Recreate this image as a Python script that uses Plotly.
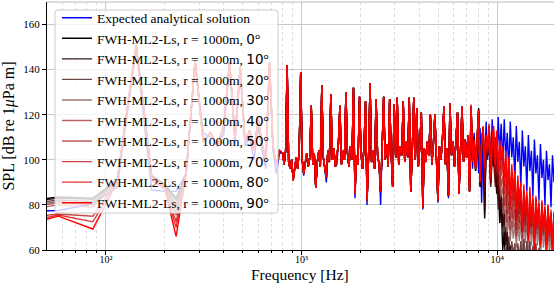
import numpy as np
import plotly.graph_objects as go

# ---------------- data ----------------
angles = [0, 10, 20, 30, 40, 50, 70, 80, 90]

# FFT bins below 800 Hz (k * 28.57 Hz, k = 1..27)
freq_low = np.arange(1, 28) * 28.57
# dense upper part of the spectrum
freq_high = np.geomspace(800, 19500, 181)

# analytical solution, low band
blue_low = [77, 77.5, 80.5, 88, 149, 86.7, 86, 86, 94, 143, 112, 110, 108, 111,
            142, 107, 139, 106, 110, 100, 115, 104, 96, 142, 104, 94, 103]

# FWH, first 8 low bins per angle
low_start = {
    0:  [80, 83.5, 83.0, 91.0, 151.0, 93.0, 89.0, 83.0],
    10: [80, 83.0, 82.5, 91.0, 151.0, 93.0, 89.0, 82.0],
    20: [79, 82.2, 81.5, 91.0, 151.0, 92.5, 88.5, 80.0],
    30: [78, 81.5, 80.5, 91.0, 151.0, 92.5, 88.5, 79.0],
    40: [77, 81.0, 80.0, 91.0, 151.0, 92.0, 88.0, 77.0],
    50: [76, 80.0, 79.0, 90.5, 151.0, 92.0, 88.0, 75.5],
    70: [73, 76.0, 75.0, 90.5, 150.5, 91.5, 87.5, 72.5],
    80: [70, 75.5, 72.5, 90.0, 150.5, 91.0, 87.0, 70.0],
    90: [68, 75.0, 69.3, 90.0, 150.5, 91.0, 87.0, 66.0],
}
# FWH, low bins 9..27 (common to all angles)
red_low_common = [94, 144, 108, 112, 106, 115, 143, 110, 141, 108, 113, 104,
                  118, 107, 100, 143, 106, 98, 104]

# FWH, 800 Hz .. ~7 kHz (common to all angles)
red_mid = [103, 98, 104, 142, 99, 96, 100, 91, 97, 101,
           96, 104, 139, 100, 94, 99, 103, 97, 101, 124,
           98, 103, 87.5, 99, 104, 97, 133, 101, 96, 92,
           104, 99, 129, 100, 105, 97, 102, 107, 124, 98,
           104, 100, 130, 103, 97, 106, 100, 132, 85, 102,
           98, 128, 103, 96, 106, 126, 82, 101, 134, 99,
           104, 96, 127, 102, 98, 86, 105, 128, 100, 107,
           97, 127, 103, 88, 124.5, 101, 127.5, 98, 106, 102,
           126, 99, 108, 101, 127.5, 86, 104, 127.5, 100, 123,
           97, 106, 121, 79, 105, 99, 108, 102, 120, 98,
           107, 120, 101, 82, 106, 100, 109, 123.5, 98, 105,
           84, 125, 102, 108, 97, 110, 121, 85, 104, 123.5,
           99, 109, 101, 111, 86]

blue_mid = [103, 98, 104, 142, 99, 96, 100, 91, 97, 101,
            96, 104, 139, 100, 93, 99, 103, 97, 101, 124,
            98, 103, 87.5, 99, 104, 97, 133, 101, 96, 90,
            104, 99, 129, 100, 105, 97, 98, 107, 124, 98,
            104, 100, 130, 103, 97, 106, 100, 132, 83, 102,
            98, 128, 103, 96, 106, 126, 80, 101, 134, 99,
            104, 96, 127, 102, 98, 80, 105, 128, 100, 107,
            97, 127, 103, 88, 124.5, 101, 127.5, 98, 106, 102,
            126, 99, 108, 101, 127.5, 86, 104, 127.5, 100, 123,
            97, 106, 121, 78, 105, 99, 108, 102, 120, 98,
            107, 120, 101, 81, 106, 100, 109, 123.5, 98, 105,
            83, 125, 102, 108, 97, 110, 121, 85, 104, 123.5,
            99, 109, 101, 111, 86]

# upper tail (~7 kHz .. 19.5 kHz)
blue_tail = [110, 96, 112, 100, 108, 94, 114, 81, 110, 98,
             117, 100, 112, 95, 118, 102, 110, 97, 119, 103,
             116, 98, 118, 100, 112, 95, 117, 101, 110, 91,
             115, 99, 108, 88, 113, 97, 106, 86, 111, 95,
             104, 84, 109, 94, 102, 82, 107, 92, 100, 80,
             104, 91, 98, 79, 102, 90]

tails = {
    0:  [123, 101, 110, 95, 113, 123, 88, 109, 114, 74,
         110, 102, 115, 90, 106, 97, 100, 85, 92, 72,
         80, 60, 68, 50, 62, 45, 55, 42, 50, 45,
         38, 48, 40, 44, 36, 46, 40, 42, 35, 44,
         38, 41, 34, 43, 37, 40, 33, 42, 36, 39,
         32, 41, 35, 38, 33, 40],
    10: [123, 101, 109, 95, 112, 122.5, 88, 108, 114, 76,
         110, 102, 115, 90, 104, 98, 100, 87, 94, 78,
         84, 70, 76, 62, 68, 56, 62, 52, 58, 50,
         55, 48, 53, 47, 52, 46, 51, 45, 50, 45,
         49, 44, 48, 43, 48, 43, 47, 42, 46, 42,
         45, 41, 45, 40, 44, 40],
    20: [123, 100, 108, 96, 110, 121, 89, 106, 113.5, 78,
         108, 102, 113, 88, 100, 100, 88, 91, 78, 83,
         72, 76, 64, 70, 60, 66, 57, 64, 58, 63,
         54, 63, 56, 64, 52, 65, 55, 64, 51, 64,
         54, 62, 50, 63, 54, 61, 49, 60, 53, 59,
         48, 58, 52, 57, 47, 56],
    30: [123, 100, 108, 96, 110, 121, 89, 106, 114, 82,
         108, 102, 113, 88, 102, 102, 90, 95, 82, 88,
         78, 83, 71, 78, 67, 75, 64, 73, 65, 72,
         61, 72, 64, 73, 60, 74, 63, 73, 59, 74,
         62, 72, 57, 73, 62, 71, 56, 70, 61, 69,
         55, 69, 59, 67, 54, 66],
    40: [123.5, 100, 108, 96, 111, 121, 90, 107, 114, 86,
         109, 102, 114, 89, 104, 105, 92, 99, 86, 93,
         84, 88, 76, 84, 72, 81, 69, 79, 70, 78,
         66, 78, 69, 79, 65, 80, 68, 79, 64, 80,
         67, 78, 62, 79, 67, 77, 61, 76, 66, 75,
         60, 75, 64, 73, 59, 72],
    50: [123.5, 100, 108, 96, 111, 121, 90, 107, 114, 90,
         109, 102, 114, 90, 105, 108, 94, 103, 89, 97,
         88, 93, 80, 89, 76, 86, 73, 84, 74, 83,
         69, 82, 72, 83, 68, 84, 71, 83, 67, 84,
         70, 82, 65, 83, 70, 81, 64, 80, 69, 79,
         63, 79, 67, 77, 62, 76],
    70: [124, 100, 108, 97, 111, 121.5, 91, 107, 114.5, 94,
         110, 103, 115, 91, 107, 111, 96, 107, 92, 101,
         93, 98, 85, 95, 81, 92, 78, 90, 79, 88,
         72, 86, 76, 85, 70, 86, 73, 84, 68, 85,
         71, 83, 66, 84, 72, 82, 65, 81, 70, 80,
         64, 80, 68, 78, 63, 77],
    80: [124, 100, 108, 97, 111, 121.5, 91, 107, 114.5, 96,
         110, 103, 115, 92, 108, 113, 97, 110, 94, 105,
         96, 102, 88, 99, 84, 96, 80, 93, 82, 90,
         74, 88, 78, 86, 68, 85, 74, 84, 66, 83,
         70, 82, 64, 81, 69, 80, 63, 79, 67, 78,
         62, 78, 66, 76, 61, 75],
    90: [124.5, 99, 109, 96, 112, 122, 90, 108, 115, 97,
         111, 104, 116, 93, 110, 115, 98, 113, 96, 109,
         100, 106, 92, 104, 88, 101, 84, 98, 86, 95,
         78, 93, 82, 90, 70, 89, 76, 86, 64, 88,
         72, 84, 60, 83, 70, 80, 62, 82, 68, 78,
         58, 80, 66, 76, 60, 77],
}

line_colors = {
    0: "rgba(0,0,0,1)",
    10: "rgba(28,0,0,0.9)",
    20: "rgba(57,0,0,0.72)",
    30: "rgba(85,0,0,0.53)",
    40: "rgba(138,0,0,0.61)",
    50: "rgba(157,0,0,0.65)",
    70: "rgba(183,0,0,0.72)",
    80: "rgba(215,0,0,0.8)",
    90: "rgba(255,0,0,1)",
}

# sanity checks
assert len(blue_low) == len(freq_low)
assert len(blue_mid) + len(blue_tail) == len(freq_high)
for a in angles:
    assert len(low_start[a]) + len(red_low_common) == len(freq_low), a
    assert len(red_mid) + len(tails[a]) == len(freq_high), a

SERIF = "Liberation Serif, Times New Roman, serif"

fig = go.Figure()
x_all = np.concatenate([freq_low, freq_high])

fig.add_trace(go.Scatter(
    x=x_all, y=blue_low + blue_mid + blue_tail, mode="lines",
    line=dict(color="#0000ff", width=1.4),
    name="Expected analytical solution"))

for a in angles:
    y = low_start[a] + red_low_common + red_mid + tails[a]
    label = ("FWH-ML2-Ls, r = 1000m, "
             "<span style='font-family:DejaVu Sans'>%d\u1d52</span>" % a)
    fig.add_trace(go.Scatter(
        x=x_all, y=y, mode="lines",
        line=dict(color=line_colors[a], width=1.4),
        name=label))

minor_vals = [60, 70, 80, 90] + [m * 100 for m in range(2, 10)] + \
             [m * 1000 for m in range(2, 10)]

fig.update_layout(
    width=554, height=293,
    margin=dict(l=47, r=0, t=2, b=43, autoexpand=False),
    paper_bgcolor="white", plot_bgcolor="white",
    font=dict(family=SERIF, size=11, color="black"),
    showlegend=True,
    legend=dict(
        x=0.0197, y=0.998, xanchor="left", yanchor="top",
        bgcolor="rgba(0,0,0,0)", borderwidth=0,
        font=dict(family=SERIF, size=13.5, color="black"),
        tracegroupgap=0, itemwidth=30,
    ),
    xaxis=dict(
        type="log",
        range=[np.log10(50), np.log10(19500)],
        tickvals=[100, 1000, 10000],
        ticktext=["10\u00b2", "10\u00b3", "10\u2074"],
        ticks="outside", ticklen=4, tickcolor="black",
        ticklabelstandoff=-4,
        showline=True, linecolor="black", linewidth=1,
        showgrid=True, gridcolor="#c8c8c8", gridwidth=1,
        minor=dict(tickvals=minor_vals, ticks="outside", ticklen=2,
                   tickcolor="black", showgrid=True, gridcolor="#dcdcdc",
                   griddash="dot"),
        tickfont=dict(family=SERIF, size=10),
        zeroline=False,
    ),
    yaxis=dict(
        range=[60, 170],
        tick0=60, dtick=20,
        ticks="outside", ticklen=4, tickcolor="black",
        showline=True, linecolor="black", linewidth=1,
        showgrid=True, gridcolor="#c8c8c8", gridwidth=1,
        tickfont=dict(family=SERIF, size=11),
        title=dict(text="SPL [dB re 1<i>μ</i>Pa m]",
                   font=dict(family=SERIF, size=16), standoff=5),
        zeroline=False,
    ),
)

fig.add_annotation(text="Frequency [Hz]", xref="paper", yref="paper",
                   x=0.499, y=-0.097, xanchor="center", yanchor="middle",
                   showarrow=False, font=dict(family=SERIF, size=15.5))

fig.add_shape(type="line", xref="paper", yref="paper", x0=0, x1=1, y0=1, y1=1,
              line=dict(color="#bbbbbb", width=1))

# legend frame (semi-transparent, rounded corners) drawn above the traces
x0, x1 = 0.0158, 0.4556
y0, y1 = 0.149, 0.9677
rx, ry = 3 / 507, 3 / 248
legend_path = (
    f"M {x0+rx},{y1} L {x1-rx},{y1} Q {x1},{y1} {x1},{y1-ry} "
    f"L {x1},{y0+ry} Q {x1},{y0} {x1-rx},{y0} "
    f"L {x0+rx},{y0} Q {x0},{y0} {x0},{y0+ry} "
    f"L {x0},{y1-ry} Q {x0},{y1} {x0+rx},{y1} Z"
)
fig.add_shape(type="path", path=legend_path, xref="paper", yref="paper",
              fillcolor="rgba(255,255,255,0.8)",
              line=dict(color="#cccccc", width=1), layer="above")

fig.write_html("out.html", config={"displayModeBar": False},
               post_script="document.body.style.margin='0px';")
